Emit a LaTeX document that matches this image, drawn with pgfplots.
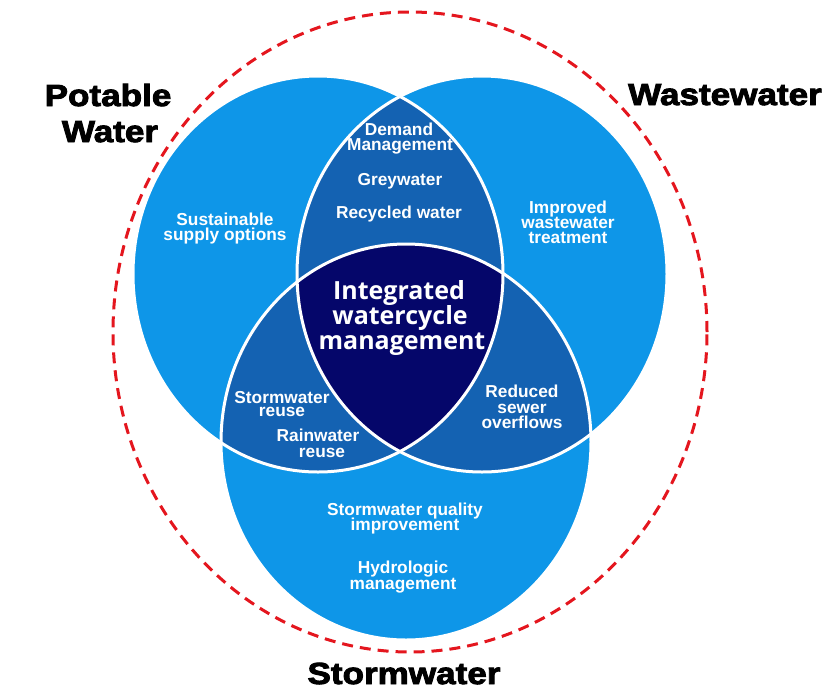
\documentclass[border=0pt]{standalone}
\usepackage{pgfplots}
\pgfplotsset{compat=1.18}
\usepackage{fontspec}
\setmainfont{Liberation Sans}
\newfontfamily\bigfont[FakeStretch=1.15,FakeBold=3]{Liberation Sans Bold}
\newfontfamily\midfont{Open Sans}

\definecolor{lightblue}{RGB}{14,150,232}
\definecolor{midblue}{RGB}{20,98,178}
\definecolor{navy}{RGB}{5,6,106}
\definecolor{dashred}{RGB}{228,22,30}

\newcommand{\innerfont}{\fontsize{17.3}{15}\selectfont\bfseries}
\newcommand{\labelfont}{\bigfont\fontsize{30.5}{30}\selectfont}
\newcommand{\corefont}{\midfont\fontsize{25}{25}\selectfont\bfseries}

\begin{document}
\begin{tikzpicture}
\begin{axis}[
    width=838pt, height=689pt, scale only axis,
    xmin=0, xmax=838, ymin=0, ymax=689,
    y dir=reverse,
    hide axis, clip=false]
  \path (axis cs:0,0) rectangle (axis cs:838,689);

  % the three circles (image is slightly stretched vertically)
  \fill[lightblue] (axis cs:318,274) ellipse [x radius=185pt, y radius=198pt];
  \fill[lightblue] (axis cs:482,274) ellipse [x radius=185pt, y radius=198pt];
  \fill[lightblue] (axis cs:406,442) ellipse [x radius=185pt, y radius=198pt];

  % pairwise overlaps
  \begin{scope}
    \clip (axis cs:318,274) ellipse [x radius=185pt, y radius=198pt];
    \fill[midblue] (axis cs:482,274) ellipse [x radius=185pt, y radius=198pt];
    \fill[midblue] (axis cs:406,442) ellipse [x radius=185pt, y radius=198pt];
  \end{scope}
  \begin{scope}
    \clip (axis cs:482,274) ellipse [x radius=185pt, y radius=198pt];
    \fill[midblue] (axis cs:406,442) ellipse [x radius=185pt, y radius=198pt];
  \end{scope}

  % centre
  \begin{scope}
    \clip (axis cs:318,274) ellipse [x radius=185pt, y radius=198pt];
    \clip (axis cs:482,274) ellipse [x radius=185pt, y radius=198pt];
    \fill[navy] (axis cs:406,442) ellipse [x radius=185pt, y radius=198pt];
  \end{scope}

  % white outlines
  \draw[white, line width=3pt] (axis cs:318,274) ellipse [x radius=185pt, y radius=198pt];
  \draw[white, line width=3pt] (axis cs:482,274) ellipse [x radius=185pt, y radius=198pt];
  \draw[white, line width=3pt] (axis cs:406,442) ellipse [x radius=185pt, y radius=198pt];

  % dashed outer ring
  \draw[dashred, line width=3pt, dash pattern=on 11pt off 7pt]
    (axis cs:410,332) ellipse [x radius=297pt, y radius=320pt];

  % big labels
  \node[anchor=base, font=\labelfont] at (axis cs:108,106) {Potable};
  \node[anchor=base, font=\labelfont] at (axis cs:110,142) {Water};
  \node[anchor=base, font=\labelfont] at (axis cs:725,105) {Wastewater};
  \node[anchor=base, font=\labelfont, inner sep=0pt] at (axis cs:404,684) {Stormwater};

  % inner labels
  \begin{scope}[every node/.style={anchor=base, text=white, font=\innerfont, inner sep=0pt}]
    \node at (axis cs:399,135) {Demand};
    \node at (axis cs:400,150) {Management};
    \node at (axis cs:400,185) {Greywater};
    \node at (axis cs:399,218) {Recycled water};

    \node at (axis cs:225,225) {Sustainable};
    \node at (axis cs:225,240) {supply options};

    \node at (axis cs:568,213) {Improved};
    \node at (axis cs:568,228) {wastewater};
    \node at (axis cs:568,243) {treatment};

    \node at (axis cs:522,397) {Reduced};
    \node at (axis cs:522,413) {sewer};
    \node at (axis cs:522,428) {overflows};

    \node at (axis cs:282,403) {Stormwater};
    \node at (axis cs:282,416) {reuse};
    \node at (axis cs:318,441) {Rainwater};
    \node at (axis cs:322,457) {reuse};

    \node at (axis cs:405,515) {Stormwater quality};
    \node at (axis cs:405,530) {improvement};
    \node at (axis cs:403,573) {Hydrologic};
    \node at (axis cs:403,589) {management};
  \end{scope}

  % centre label
  \begin{scope}[every node/.style={anchor=base, text=white, font=\corefont, inner sep=0pt}]
    \node at (axis cs:399,299) {Integrated};
    \node at (axis cs:400,324) {watercycle};
    \node at (axis cs:402,349) {management};
  \end{scope}
\end{axis}
\end{tikzpicture}
\end{document}
